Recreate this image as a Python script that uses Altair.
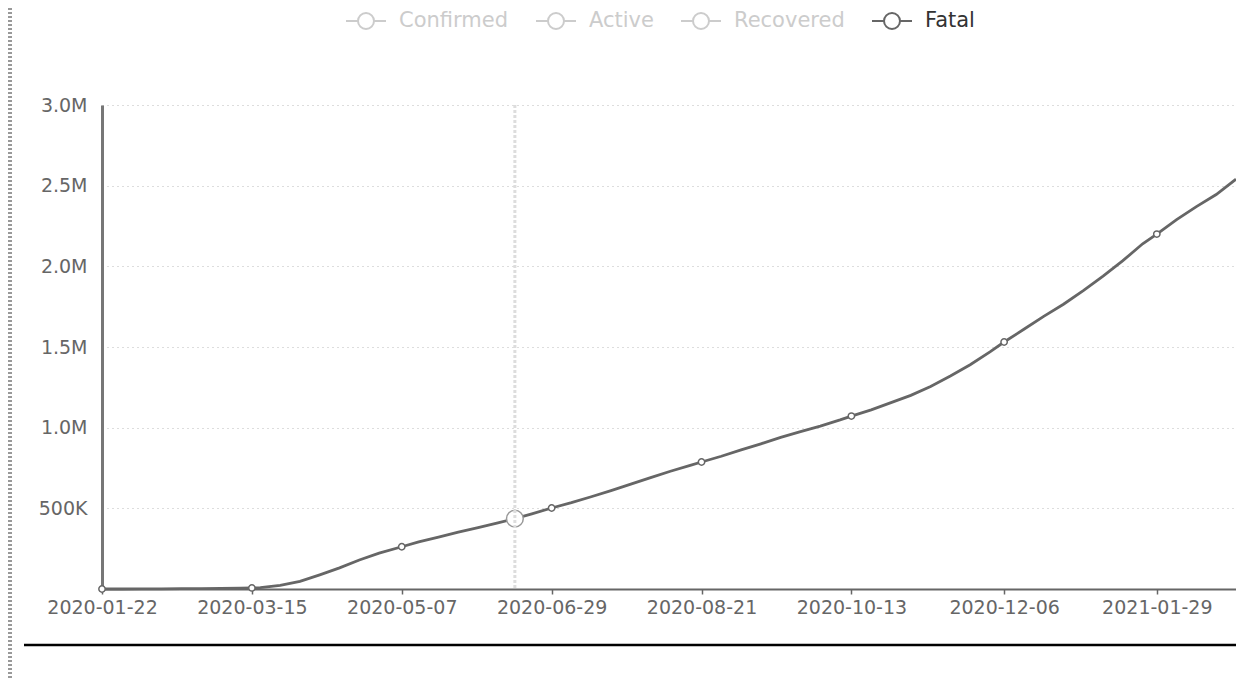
import altair as alt
import pandas as pd

# ---- data (cumulative fatal cases) ----
dates = [
    "2020-01-22", "2020-01-29", "2020-02-05", "2020-02-12", "2020-02-19", "2020-02-26",
    "2020-03-04", "2020-03-11", "2020-03-15", "2020-03-18", "2020-03-25", "2020-04-01",
    "2020-04-08", "2020-04-15", "2020-04-22", "2020-04-29", "2020-05-07", "2020-05-13",
    "2020-05-20", "2020-05-27", "2020-06-03", "2020-06-10", "2020-06-16", "2020-06-22",
    "2020-06-29", "2020-07-06", "2020-07-13", "2020-07-20", "2020-07-27", "2020-08-03",
    "2020-08-10", "2020-08-17", "2020-08-21", "2020-08-28", "2020-09-04", "2020-09-11",
    "2020-09-18", "2020-09-25", "2020-10-02", "2020-10-09", "2020-10-13", "2020-10-20",
    "2020-10-27", "2020-11-03", "2020-11-10", "2020-11-17", "2020-11-24", "2020-12-01",
    "2020-12-06", "2020-12-13", "2020-12-20", "2020-12-27", "2021-01-03", "2021-01-10",
    "2021-01-17", "2021-01-24", "2021-01-29", "2021-02-05", "2021-02-12", "2021-02-19",
    "2021-02-26",
]
fatal = [
    17, 133, 565, 1118, 2122, 2770,
    3254, 4615, 6500, 8700, 21800, 47000,
    88000, 131000, 180000, 222000, 262000, 292000,
    322000, 352000, 380000, 410000, 436000, 466000,
    502000, 535000, 572000, 610000, 650000, 690000,
    730000, 766000, 787000, 823000, 862000, 900000,
    940000, 975000, 1010000, 1048000, 1072000, 1110000,
    1155000, 1200000, 1255000, 1320000, 1390000, 1470000,
    1531000, 1610000, 1690000, 1765000, 1850000, 1940000,
    2035000, 2140000, 2200000, 2290000, 2370000, 2445000,
    2540000,
]
tick_dates = ["2020-01-22", "2020-03-15", "2020-05-07", "2020-06-29",
              "2020-08-21", "2020-10-13", "2020-12-06", "2021-01-29"]
series_names = ["Confirmed", "Active", "Recovered", "Fatal"]
series_colors = ["#cccccc", "#cccccc", "#cccccc", "#666666"]
y_ticks = [0, 500000, 1000000, 1500000, 2000000, 2500000, 3000000]
hover_date = "2020-06-16"
x_start, x_end = "2020-01-22", "2021-02-26"


def dt(s):
    y, m, d = (int(p) for p in s.split("-"))
    return alt.DateTime(year=y, month=m, date=d)


df = pd.DataFrame({
    "date": [d + "T00:00:00" for d in dates],
    "day": dates,
    "value": fatal,
    "series": ["Fatal"] * len(dates),
})
df_ticks = df[df["day"].isin(tick_dates)]
df_hover = df[df["day"] == hover_date]

FONT = "DejaVu Sans"

x_enc = alt.X(
    "date:T",
    title=None,
    scale=alt.Scale(domain=[dt(x_start), dt(x_end)], nice=False),
    axis=alt.Axis(
        values=[dt(s) for s in tick_dates],
        format="%Y-%m-%d",
        labelFont=FONT, labelFontSize=19, labelColor="#666666",
        labelPadding=4, labelOverlap=False, labelFlush=False,
        ticks=True, tickSize=5, tickColor="#666666", tickWidth=1.5,
        domainColor="#666666", domainWidth=2, grid=False,
    ),
)
y_enc = alt.Y(
    "value:Q",
    title=None,
    scale=alt.Scale(domain=[0, 3000000], nice=False),
    axis=alt.Axis(
        values=y_ticks,
        labelExpr="datum.value == 0 ? '' : (datum.value >= 1000000 ? format(datum.value / 1000000, '.1f') + 'M' : format(datum.value / 1000, 'd') + 'K')",
        labelFont=FONT, labelFontSize=19, labelColor="#666666", labelPadding=15,
        ticks=False, domainColor="#777777", domainWidth=3,
        grid=True, gridColor="#bbbbbb", gridDash=[1, 4], gridWidth=1,
    ),
)

legend = alt.Legend(
    orient="none", legendX=243, legendY=-105, direction="horizontal", columns=4,
    title=None,
    symbolType="M-1,0L-0.4,0M0.4,0L1,0M0.4,0A0.4,0.4,0,1,1,-0.4,0A0.4,0.4,0,1,1,0.4,0",
    symbolSize=1600, symbolStrokeWidth=2, symbolFillColor="white",
    labelFont=FONT, labelFontSize=21,
    labelColor={"expr": "datum.label == 'Fatal' ? '#333333' : '#cccccc'"},
    labelOffset=12, columnPadding=23,
)

line = alt.Chart(df).mark_line(strokeWidth=2.8).encode(
    x=x_enc, y=y_enc,
    color=alt.Color("series:N", scale=alt.Scale(domain=series_names, range=series_colors), legend=legend),
)

markers = alt.Chart(df_ticks).mark_point(
    filled=True, fill="white", stroke="#666666", strokeWidth=1.5, size=40, shape="circle", opacity=1
).encode(x="date:T", y="value:Q")

hover = alt.Chart(df_hover).mark_point(
    filled=True, fill="white", stroke="#999999", strokeWidth=1.5, size=280, shape="circle", opacity=1
).encode(x="date:T", y="value:Q")

crosshair = alt.Chart(df_hover).mark_rule(
    color="#dddddd", strokeWidth=3, strokeDash=[3, 2]
).encode(x="date:T")

deco = pd.DataFrame({"k": [0]})
bottom_line = alt.Chart(deco).mark_rule(color="black", strokeWidth=2.5).encode(
    x=alt.value(-78), x2=alt.value(1134), y=alt.value(540)
)
left_hatch = alt.Chart(deco).mark_rule(color="#999999", strokeWidth=4, strokeDash=[2, 2]).encode(
    x=alt.value(-92), y=alt.value(-97), y2=alt.value(573)
)

chart = alt.layer(left_hatch, bottom_line, line, markers, hover, crosshair).properties(
    width=1134, height=484,
    autosize=alt.AutoSizeParams(type="none"),
    padding={"left": 94, "top": 97, "right": 0, "bottom": 89},
    background="white",
).configure_view(stroke=None)

chart.save("out.html", embed_options={"renderer": "svg", "actions": False})
